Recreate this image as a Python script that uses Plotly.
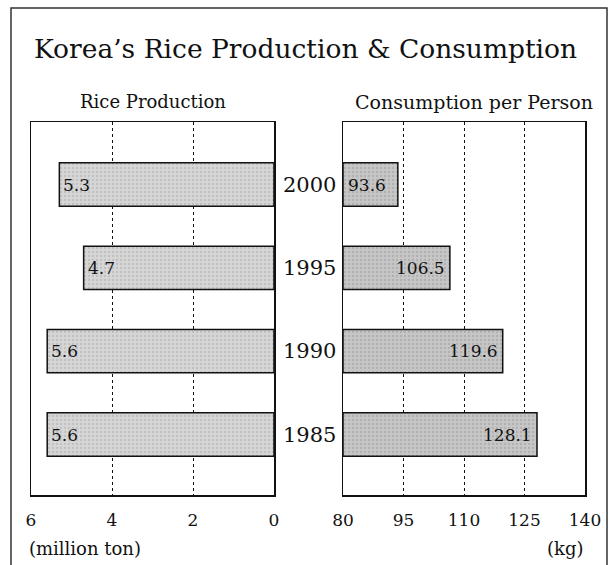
import plotly.graph_objects as go

# ---- data ----
years = ["1985", "1990", "1995", "2000"]
production = [5.6, 5.6, 4.7, 5.3]          # million ton
consumption = [128.1, 119.6, 106.5, 93.6]  # kg per person
prod_ticks = [6, 4, 2, 0]
cons_ticks = [80, 95, 110, 125, 140]

title = "Korea\u2019s Rice Production & Consumption"
left_title = "Rice Production"
right_title = "Consumption per Person"
left_unit = "(million ton)"
right_unit = "(kg)"

W, H = 609, 565
SERIF = "DejaVu Serif"
INK = "#111111"

def px(x):
    return x / W

def py(y):
    return 1 - y / H

fig = go.Figure()

fig.add_trace(go.Bar(
    y=years, x=production, orientation="h", width=0.52,
    marker=dict(color="#d6d6d6", line=dict(color=INK, width=1.5),
                pattern=dict(shape=".", fillmode="overlay", fgcolor="#a8a8a8",
                             size=4, solidity=0.25)),
    xaxis="x", yaxis="y", showlegend=False, hoverinfo="skip",
))
cons_base = cons_ticks[0]
fig.add_trace(go.Bar(
    y=years, x=[v - cons_base for v in consumption], base=cons_base,
    orientation="h", width=0.52,
    marker=dict(color="#c6c6c6", line=dict(color=INK, width=1.5),
                pattern=dict(shape=".", fillmode="overlay", fgcolor="#989898",
                             size=4, solidity=0.25)),
    xaxis="x2", yaxis="y2", showlegend=False, hoverinfo="skip",
))

yrange = [-0.726, 3.75]
ydom = [py(495), py(122)]
axis_common = dict(
    showline=True, mirror=True, linecolor=INK, linewidth=1.5,
    showgrid=True, gridcolor=INK, gridwidth=1, griddash="dot",
    zeroline=False, ticks="", ticklabelstandoff=9, automargin=False,
    tickfont=dict(family=SERIF, size=17, color=INK),
    fixedrange=True,
)
yaxis_common = dict(
    range=yrange, domain=ydom, showticklabels=False, showgrid=False,
    showline=True, mirror=True, linecolor=INK, linewidth=1.5,
    zeroline=False, ticks="", type="category", automargin=False,
    categoryorder="array", categoryarray=years, fixedrange=True,
)
fig.update_layout(
    template="none",
    width=W, height=H, margin=dict(l=0, r=0, t=0, b=0, pad=0, autoexpand=False),
    paper_bgcolor="white", plot_bgcolor="white",
    bargap=0, showlegend=False,
    xaxis=dict(domain=[px(31), px(274)], range=[6, 0], tickvals=prod_ticks,
               anchor="y", **axis_common),
    yaxis=dict(anchor="x", **yaxis_common),
    xaxis2=dict(domain=[px(343), px(585)], range=[80, 140], tickvals=cons_ticks,
                anchor="y2", **axis_common),
    yaxis2=dict(anchor="x2", **yaxis_common),
)

ann = []
ann.append(dict(text=title, x=px(305), y=py(49), xref="paper", yref="paper",
                showarrow=False, xanchor="center", yanchor="middle",
                font=dict(family=SERIF, size=26.5, color=INK)))
ann.append(dict(text=left_title, x=px(153), y=py(102), xref="paper", yref="paper",
                showarrow=False, xanchor="center", yanchor="middle",
                font=dict(family=SERIF, size=18, color=INK)))
ann.append(dict(text=right_title, x=px(474), y=py(102), xref="paper", yref="paper",
                showarrow=False, xanchor="center", yanchor="middle",
                font=dict(family=SERIF, size=19, color=INK)))
ann.append(dict(text=left_unit, x=px(27), y=py(548), xref="paper", yref="paper",
                showarrow=False, xanchor="left", yanchor="middle",
                font=dict(family=SERIF, size=18, color=INK)))
ann.append(dict(text=right_unit, x=px(585), y=py(548), xref="paper", yref="paper",
                showarrow=False, xanchor="right", yanchor="middle",
                font=dict(family=SERIF, size=18, color=INK)))

for i, yr in enumerate(years):
    ann.append(dict(text=yr, x=px(309), y=i, xref="paper", yref="y",
                    showarrow=False, xanchor="center", yanchor="middle",
                    font=dict(family=SERIF, size=21, color=INK)))
    ann.append(dict(text=f"{production[i]:.1f}", x=production[i], y=i,
                    xref="x", yref="y", showarrow=False, xanchor="left",
                    yanchor="middle", xshift=2,
                    font=dict(family=SERIF, size=17, color=INK)))
    v = consumption[i]
    if v - cons_base < 20:
        ann.append(dict(text=f"{v:.1f}", x=cons_base, y=i, xref="x2", yref="y2",
                        showarrow=False, xanchor="left", yanchor="middle", xshift=3,
                        font=dict(family=SERIF, size=17, color=INK)))
    else:
        ann.append(dict(text=f"{v:.1f}", x=v, y=i, xref="x2", yref="y2",
                        showarrow=False, xanchor="right", yanchor="middle", xshift=-3,
                        font=dict(family=SERIF, size=17, color=INK)))

fig.update_layout(annotations=ann)

fig.add_shape(type="rect", xref="paper", yref="paper",
              x0=px(11), x1=px(607), y0=-0.05, y1=py(8),
              line=dict(color="#333333", width=1.5), fillcolor="rgba(0,0,0,0)",
              layer="below")

fig.write_html("out.html",
               config={"displayModeBar": False, "staticPlot": True},
               post_script="document.body.style.margin='0px';document.body.style.overflow='hidden';")
